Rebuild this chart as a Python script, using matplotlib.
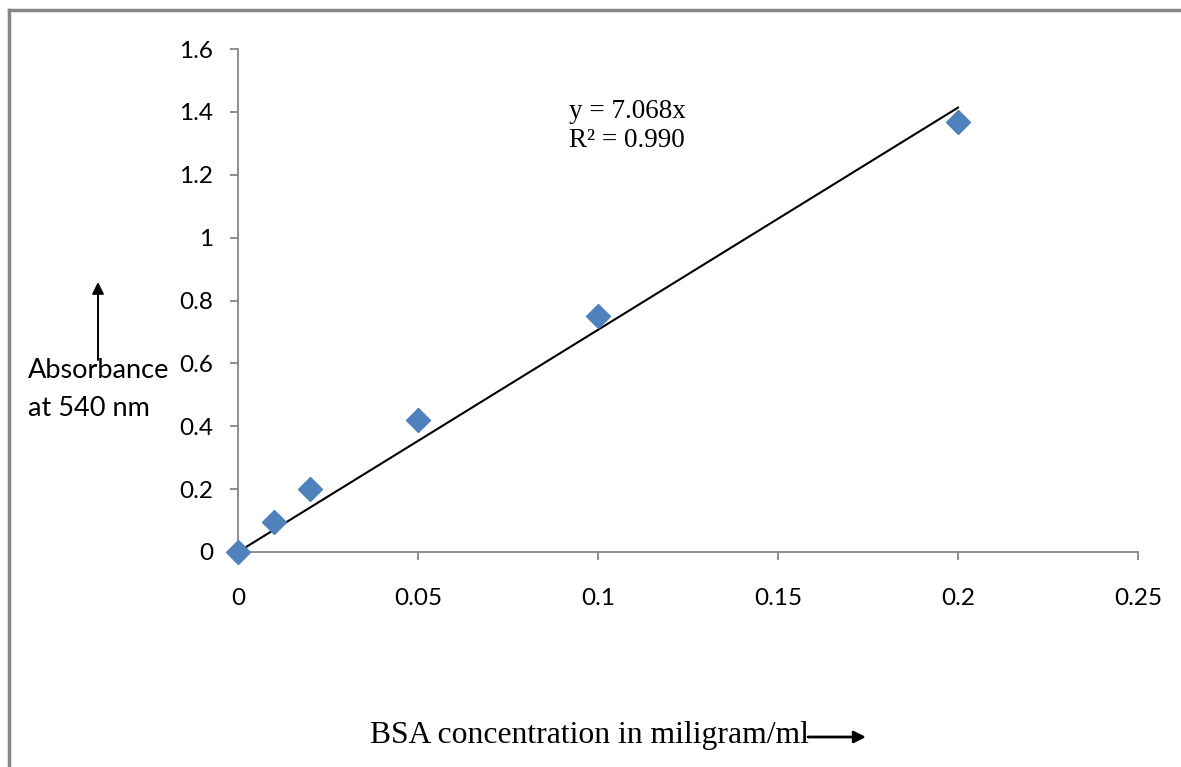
import matplotlib
matplotlib.use("Agg")
import matplotlib.pyplot as plt
from matplotlib.lines import Line2D

# Data
conc = [0, 0.01, 0.02, 0.05, 0.1, 0.2]
absorb = [0, 0.095, 0.2, 0.42, 0.75, 1.367]
slope = 7.068
trend_x = [0, 0.2]
x_ticks = [0, 0.05, 0.1, 0.15, 0.2, 0.25]
x_ticklabels = ["0", "0.05", "0.1", "0.15", "0.2", "0.25"]
y_ticks = [0, 0.2, 0.4, 0.6, 0.8, 1.0, 1.2, 1.4, 1.6]
y_ticklabels = ["0", "0.2", "0.4", "0.6", "0.8", "1", "1.2", "1.4", "1.6"]

W, H = 1181, 767
fig = plt.figure(figsize=(W / 100, H / 100), dpi=100)

def fx(px):
    return px / W

def fy(py):
    return 1 - py / H

ax = fig.add_axes([fx(238), fy(552), fx(1138) - fx(238), fy(49) - fy(552)])
gray = "#868686"
ax.plot(trend_x, [slope * v for v in trend_x], color="black", lw=1.5, zorder=2)
ax.plot(conc, absorb, linestyle="none", marker="D", ms=12, color="#4F81BD",
        markeredgecolor="#4F81BD", zorder=3, clip_on=False)

ax.set_xlim(0, 0.25)
ax.set_ylim(0, 1.6)
ax.set_xticks(x_ticks)
ax.set_xticklabels(x_ticklabels)
ax.set_yticks(y_ticks)
ax.set_yticklabels(y_ticklabels)
for s in ["top", "right"]:
    ax.spines[s].set_visible(False)
for s in ["left", "bottom"]:
    ax.spines[s].set_color(gray)
    ax.spines[s].set_linewidth(1.3)
ax.tick_params(axis="both", direction="out", length=6, width=1.3, color=gray,
               labelsize=17.5, labelcolor="black")
ax.tick_params(axis="x", pad=20)
ax.tick_params(axis="y", pad=12)
for lab in ax.get_xticklabels() + ax.get_yticklabels():
    lab.set_fontfamily("Lato")

# Equation
ax.text(0.0919, 1.355, "y = 7.068x\nR\u00b2 = 0.990", fontsize=19.5,
        family="Liberation Serif", va="center", ha="left", linespacing=1.2)

# Y label + arrow
fig.text(fx(28), fy(370), "Absorbance", fontsize=19.5, family="Lato", va="center", ha="left")
fig.text(fx(28), fy(408), "at 540 nm", fontsize=19.5, family="Lato", va="center", ha="left")
fig.patches.append(matplotlib.patches.FancyArrowPatch(
    (fx(98), fy(360)), (fx(98), fy(282)), transform=fig.transFigure,
    arrowstyle="-|>,head_length=7,head_width=3.5", color="black", lw=1.4,
    shrinkA=0, shrinkB=0))

# X label + arrow
fig.text(fx(370), fy(735), "BSA concentration in miligram/ml", fontsize=22.8,
         family="Liberation Serif", va="center", ha="left")
fig.patches.append(matplotlib.patches.FancyArrowPatch(
    (fx(808), fy(737)), (fx(866), fy(737)), transform=fig.transFigure,
    arrowstyle="-|>,head_length=7,head_width=3.5", color="black", lw=2,
    shrinkA=0, shrinkB=0))

# Outer frame (top and left only visible)
fig.add_artist(Line2D([fx(9), 1], [fy(10), fy(10)], transform=fig.transFigure,
                      color=gray, lw=2.5))
fig.add_artist(Line2D([fx(9), fx(9)], [fy(10), 0], transform=fig.transFigure,
                      color=gray, lw=2.5))

fig.savefig("out.png", dpi=100)
